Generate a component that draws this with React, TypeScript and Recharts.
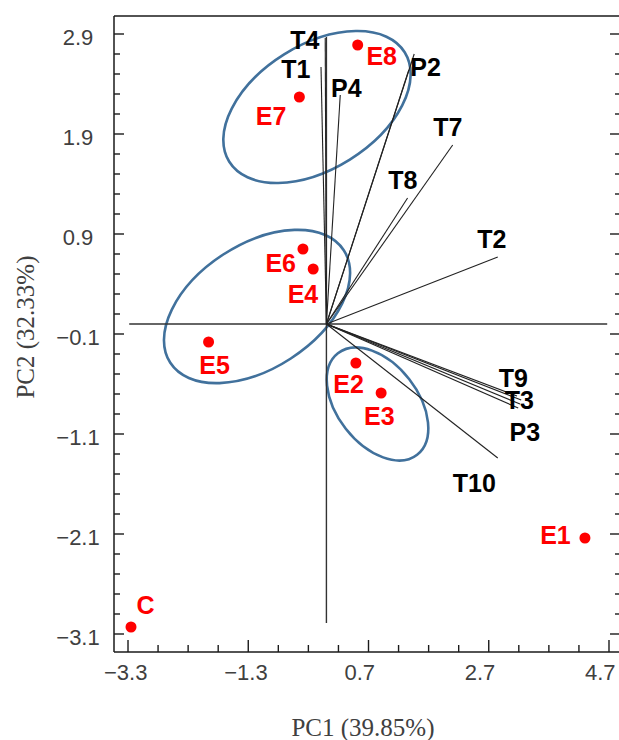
import { ScatterChart, Scatter, XAxis, YAxis, ReferenceLine, ReferenceArea } from 'recharts';

// sample scores (PC1, PC2)
const sampleNames = ['E8', 'E7', 'E6', 'E4', 'E5', 'E2', 'E3', 'E1', 'C'];
const samplePc1 = [0.52, -0.45, -0.39, -0.22, -1.96, 0.49, 0.91, 4.3, -3.25];
const samplePc2 = [2.79, 2.27, 0.75, 0.55, -0.18, -0.39, -0.69, -2.14, -3.03];
// where the red names sit
const sampleLabelX = [0.92, -0.92, -0.76, -0.39, -1.86, 0.37, 0.88, 3.81, -3.01];
const sampleLabelY = [2.68, 2.08, 0.61, 0.3, -0.41, -0.6, -0.92, -2.11, -2.81];

// loading vectors, drawn from the origin
const vecNames = ['T4', 'T1', 'P4', 'P2', 'P1', 'T7', 'T8', 'T2', 'T9', 'T3', 'P3', 'T5', 'T10'];
const vecPc1 = [-0.02, -0.09, 0.23, 1.46, 1.37, 2.1, 1.35, 2.85, 3.17, 3.24, 3.22, 3.19, 2.85];
const vecPc2 = [2.86, 2.57, 2.29, 2.7, 2.54, 1.79, 1.26, 0.67, -0.72, -0.76, -0.8, -0.84, -1.34];

// visible variable labels
const varLabels = ['T4', 'T1', 'P4', 'P2', 'T7', 'T8', 'T2', 'T9', 'T3', 'P3', 'T10'];
const varLabelX = [-0.36, -0.51, 0.33, 1.65, 2.02, 1.27, 2.75, 3.11, 3.21, 3.3, 2.46];
const varLabelY = [2.84, 2.55, 2.36, 2.57, 1.97, 1.44, 0.85, -0.54, -0.76, -1.08, -1.59];

// confidence ellipses: centre, half-axes (x units / y units), tilt in degrees
const ellipseCx = [-0.157, -1.154, 0.85];
const ellipseCy = [2.17, 0.175, -0.8];
const ellipseRx = [1.72, 1.72, 1.07];
const ellipseRy = [0.62, 0.62, 0.403];
const ellipseTilt = [-32, -33, 52];

const xMajor = [-3.3, -1.3, 0.7, 2.7, 4.7];
const xMinor = [-2.8, -2.3, -1.8, -0.8, -0.3, 0.2, 1.2, 1.7, 2.2, 3.2, 3.7, 4.2];
const yMajor = [-3.1, -2.1, -1.1, -0.1, 0.9, 1.9, 2.9];
const yMinor = [
  -2.9, -2.7, -2.5, -2.3, -1.9, -1.7, -1.5, -1.3, -0.9, -0.7, -0.5, -0.3,
  0.1, 0.3, 0.5, 0.7, 1.1, 1.3, 1.5, 1.7, 2.1, 2.3, 2.5, 2.7,
];

const X_DOMAIN = [-3.533, 4.883];
const Y_DOMAIN = [-3.28, 3.08];

const RED = '#ff0000';
const BLUE = '#41719c';
const FRAME = '#1a1a1a';
const TICK_TEXT = '#404040';
const SANS = '"Liberation Sans", Arial, sans-serif';
const SERIF = '"Liberation Serif", "Times New Roman", serif';

const samples = sampleNames.map((name, i) => ({ name, x: samplePc1[i], y: samplePc2[i] }));
const sampleLabels = sampleNames.map((name, i) => ({ name, x: sampleLabelX[i], y: sampleLabelY[i] }));
const variableLabels = varLabels.map((name, i) => ({ name, x: varLabelX[i], y: varLabelY[i] }));
const allX = [...xMajor, ...xMinor].sort((a, b) => a - b);
const allY = [...yMajor, ...yMinor].sort((a, b) => a - b);

const fmt = (v: number) => (v < 0 ? '\u2212' + Math.abs(v).toFixed(1) : v.toFixed(1));
const isMajor = (list: number[], v: number) => list.some((m) => Math.abs(m - v) < 1e-6);

const BottomTick = (props: any) => {
  const { x, y, payload } = props;
  const major = isMajor(xMajor, payload.value);
  return (
    <g>
      <line x1={x} y1={y} x2={x} y2={y - (major ? 12 : 7)} stroke={FRAME} strokeWidth={1.4} />
      {major && (
        <text x={x - 24} y={y + 28} fontSize={22} fontFamily={SANS} fill={TICK_TEXT}>
          {fmt(payload.value)}
        </text>
      )}
    </g>
  );
};

const TopTick = (props: any) => {
  const { x, y, payload } = props;
  const major = isMajor(xMajor, payload.value);
  return <line x1={x} y1={y} x2={x} y2={y + (major ? 13 : 8)} stroke={FRAME} strokeWidth={1.4} />;
};

const LeftTick = (props: any) => {
  const { x, y, payload } = props;
  const major = isMajor(yMajor, payload.value);
  return (
    <g>
      <line x1={x} y1={y} x2={x + (major ? 10 : 6)} y2={y} stroke={FRAME} strokeWidth={1.4} />
      {major && (
        <text x={x - 36} y={y + 11} textAnchor="middle" fontSize={22} fontFamily={SANS} fill={TICK_TEXT}>
          {fmt(payload.value)}
        </text>
      )}
    </g>
  );
};

const RightTick = (props: any) => {
  const { x, y, payload } = props;
  const major = isMajor(yMajor, payload.value);
  return <line x1={x} y1={y} x2={x - (major ? 10 : 5)} y2={y} stroke={FRAME} strokeWidth={1.4} />;
};

const ellipseShape = (tilt: number) => (props: any) => {
  const { x, y, width, height } = props;
  const cx = x + width / 2;
  const cy = y + height / 2;
  return (
    <ellipse
      cx={cx}
      cy={cy}
      rx={Math.abs(width) / 2}
      ry={Math.abs(height) / 2}
      transform={`rotate(${tilt} ${cx} ${cy})`}
      fill="none"
      stroke={BLUE}
      strokeWidth={2.6}
    />
  );
};

const labelShape = (color: string) => (props: any) => (
  <text
    x={props.cx}
    y={props.cy}
    dy={9}
    textAnchor="middle"
    fontSize={25}
    fontWeight="bold"
    fontFamily={SANS}
    fill={color}
  >
    {props.payload.name}
  </text>
);

const XTitle = (props: any) => {
  const { x, y, width } = props.viewBox;
  return (
    <text x={x + width / 2 - 4} y={y + 84} textAnchor="middle" fontSize={25} fontFamily={SERIF} fill={TICK_TEXT}>
      PC1 (39.85%)
    </text>
  );
};

const YTitle = (props: any) => {
  const { x, y, height } = props.viewBox;
  const cx = x - 29;
  const cy = y + height / 2 - 7;
  return (
    <text
      x={cx}
      y={cy}
      transform={`rotate(-90 ${cx} ${cy})`}
      textAnchor="middle"
      dominantBaseline="central"
      fontSize={25}
      fontFamily={SERIF}
      fill={TICK_TEXT}
    >
      PC2 (32.33%)
    </text>
  );
};

export default function App() {
  return (
    <div style={{ position: 'absolute', left: 0, top: 0, width: 619, height: 740, overflow: 'hidden', background: '#fff' }}>
      <ScatterChart width={630} height={740} margin={{ top: 6, right: 0, bottom: 48, left: 54 }}>
        <XAxis
          dataKey="x"
          type="number"
          domain={X_DOMAIN}
          allowDataOverflow
          ticks={allX}
          interval={0}
          tickSize={0}
          tickMargin={0}
          tickLine={false}
          tick={<BottomTick />}
          height={40}
          axisLine={{ stroke: FRAME, strokeWidth: 1.5 }}
          label={XTitle}
        />
        <XAxis
          xAxisId="top"
          orientation="top"
          type="number"
          domain={X_DOMAIN}
          allowDataOverflow
          ticks={allX}
          interval={0}
          tickSize={0}
          tickMargin={0}
          tickLine={false}
          tick={<TopTick />}
          height={10}
          axisLine={{ stroke: FRAME, strokeWidth: 1.5 }}
        />
        <YAxis
          dataKey="y"
          type="number"
          domain={Y_DOMAIN}
          allowDataOverflow
          ticks={allY}
          interval={0}
          tickSize={0}
          tickMargin={0}
          tickLine={false}
          tick={<LeftTick />}
          width={60}
          axisLine={{ stroke: FRAME, strokeWidth: 1.5 }}
          label={YTitle}
        />
        <YAxis
          yAxisId="right"
          orientation="right"
          type="number"
          domain={Y_DOMAIN}
          allowDataOverflow
          ticks={allY}
          interval={0}
          tickSize={0}
          tickMargin={0}
          tickLine={false}
          tick={<RightTick />}
          width={10}
          axisLine={{ stroke: FRAME, strokeWidth: 1.5 }}
        />

        <ReferenceLine segment={[{ x: -3.28, y: 0 }, { x: 4.67, y: 0 }]} stroke="#333" strokeWidth={1.4} ifOverflow="visible" />
        <ReferenceLine segment={[{ x: 0, y: -2.99 }, { x: 0, y: 2.87 }]} stroke="#333" strokeWidth={1.4} ifOverflow="visible" />
        {vecNames.map((n, i) => (
          <ReferenceLine
            key={n}
            segment={[{ x: 0, y: 0 }, { x: vecPc1[i], y: vecPc2[i] }]}
            stroke="#222"
            strokeWidth={1.1}
            ifOverflow="visible"
          />
        ))}
        {ellipseCx.map((c, i) => (
          <ReferenceArea
            key={i}
            x1={c - ellipseRx[i]}
            x2={c + ellipseRx[i]}
            y1={ellipseCy[i] - ellipseRy[i]}
            y2={ellipseCy[i] + ellipseRy[i]}
            ifOverflow="visible"
            shape={ellipseShape(ellipseTilt[i])}
          />
        ))}

        <Scatter
          data={samples}
          isAnimationActive={false}
          shape={(p: any) => <circle cx={p.cx} cy={p.cy} r={5.5} fill={RED} />}
        />
        <Scatter data={sampleLabels} isAnimationActive={false} shape={labelShape(RED)} />
        <Scatter data={variableLabels} isAnimationActive={false} shape={labelShape('#000')} />
      </ScatterChart>
    </div>
  );
}
